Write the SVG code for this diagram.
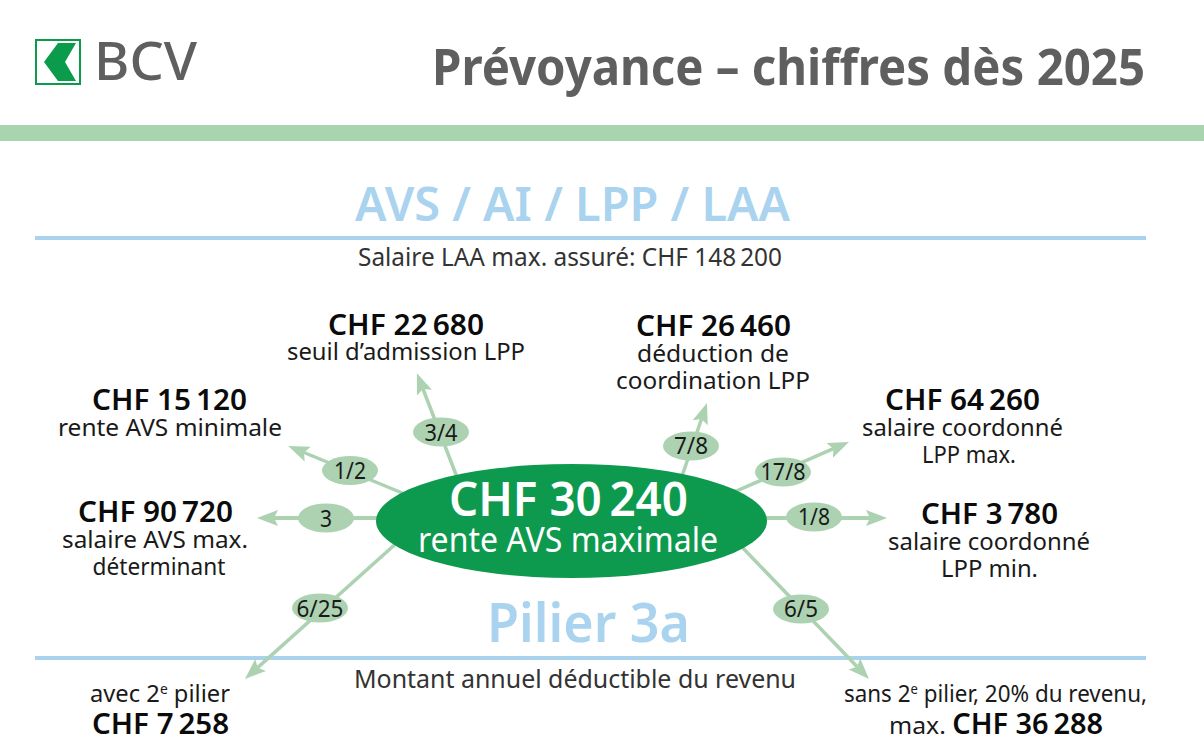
<svg xmlns="http://www.w3.org/2000/svg" width="1204" height="754" viewBox="0 0 1204 754">
<style>
text{font-family:"Noto Sans","Open Sans","DejaVu Sans",sans-serif;fill:#111;text-anchor:middle}
.v{font-size:28px;font-weight:600;fill:#0b0b0b}
.l{font-size:24px;font-weight:400;fill:#1a1a1a}
.s{font-size:26px;fill:#333}
.h{font-weight:600;fill:#a9d3ee}
.p{font-size:24px;fill:#1a1a1a}
.c{stroke:#acd2b1;stroke-width:4;fill:none;marker-end:url(#a)}
.d{stroke-width:3.500}
.o{fill:#acd2b1}
.r{fill:#a9d2ec}
</style>
<defs>
<marker id="a" markerUnits="userSpaceOnUse" markerWidth="22" markerHeight="18" refX="4" refY="9" orient="auto" viewBox="0 0 22 18">
<path d="M0 1L21 9L0 17L4 9Z" fill="#acd2b1"/>
</marker>
</defs>
<rect width="1204" height="754" fill="#fff"/>
<g id="logo">
<rect x="36" y="40" width="44" height="44" fill="#fff" stroke="#0a9b4b" stroke-width="2"/>
<path d="M58 43H76L65 62L76 81H58L44 62Z" fill="#0a9b4b"/>
<text x="145.500" y="80" textLength="103" lengthAdjust="spacingAndGlyphs" style="font-size:52px;font-weight:500;fill:#5f5f5f">BCV</text>
</g>
<text id="title" x="788.500" y="85" textLength="713" lengthAdjust="spacingAndGlyphs" style="font-size:51px;font-weight:700;fill:#5f5f5f">Prévoyance – chiffres dès 2025</text>
<rect id="band" y="125" width="1204" height="16" fill="#a8d4ae"/>
<text class="h" x="572.500" y="221" textLength="435" lengthAdjust="spacingAndGlyphs" style="font-size:46px">AVS / AI / LPP / LAA</text>
<rect class="r" x="35" y="236" width="1111" height="4"/>
<text class="s" x="570" y="266" textLength="424" lengthAdjust="spacingAndGlyphs">Salaire LAA max. assuré: CHF 148&#8201;200</text>
<text class="h" x="588.500" y="642" textLength="203" lengthAdjust="spacingAndGlyphs" style="font-size:54px">Pilier 3a</text>
<rect class="r" x="35" y="656" width="1111" height="4"/>
<text class="s" x="575" y="688" textLength="442" lengthAdjust="spacingAndGlyphs">Montant annuel déductible du revenu</text>
<g id="connectors">
<path class="c d" d="M460 485L423 389"/>
<path class="c d" d="M412 497L304 452.500"/>
<path class="c" d="M385 518H274"/>
<path class="c d" d="M680 482L701.500 419"/>
<path class="c d" d="M725 496L833.400 448.700"/>
<path class="c" d="M760 518H870"/>
<path class="c d" d="M400 540L257.600 667.600"/>
<path class="c d" d="M740 545L857.200 666.800"/>
</g>
<g id="center">
<ellipse cx="571.500" cy="521" rx="195.500" ry="57" fill="#0e9a4e"/>
<text x="568.500" y="516" textLength="239" lengthAdjust="spacingAndGlyphs" style="font-size:47px;font-weight:600;fill:#fff">CHF 30&#8201;240</text>
<text x="568" y="552" textLength="300" lengthAdjust="spacingAndGlyphs" style="font-size:35px;fill:#fff">rente AVS maximale</text>
</g>
<g id="r-3-4"><ellipse class="o" cx="441" cy="432" rx="28" ry="14.500"/><text class="p" x="441" y="441" textLength="33" lengthAdjust="spacingAndGlyphs">3/4</text></g>
<g id="r-1-2"><ellipse class="o" cx="350" cy="470.500" rx="28" ry="14.500"/><text class="p" x="350" y="478.500" textLength="32" lengthAdjust="spacingAndGlyphs">1/2</text></g>
<g id="r-3"><ellipse class="o" cx="326" cy="518" rx="28" ry="14.500"/><text class="p" x="326" y="526.500" textLength="12" lengthAdjust="spacingAndGlyphs">3</text></g>
<g id="r-7-8"><ellipse class="o" cx="691" cy="446" rx="28" ry="14.500"/><text class="p" x="691" y="454" textLength="34" lengthAdjust="spacingAndGlyphs">7/8</text></g>
<g id="r-17-8"><ellipse class="o" cx="783" cy="472" rx="28" ry="14.500"/><text class="p" x="783" y="479.500" textLength="45" lengthAdjust="spacingAndGlyphs">17/8</text></g>
<g id="r-1-8"><ellipse class="o" cx="814" cy="517" rx="28" ry="14.500"/><text class="p" x="814" y="524.500" textLength="32" lengthAdjust="spacingAndGlyphs">1/8</text></g>
<g id="r-6-25"><ellipse class="o" cx="320" cy="608" rx="28" ry="14.500"/><text class="p" x="320" y="616.500" textLength="47" lengthAdjust="spacingAndGlyphs">6/25</text></g>
<g id="r-6-5"><ellipse class="o" cx="801" cy="609" rx="28" ry="14.500"/><text class="p" x="801" y="617" textLength="34" lengthAdjust="spacingAndGlyphs">6/5</text></g>
<g id="n-22680"><text class="v" x="406" y="334.500" textLength="156" lengthAdjust="spacingAndGlyphs">CHF 22&#8201;680</text><text class="l" x="406" y="360" textLength="238" lengthAdjust="spacingAndGlyphs">seuil d’admission LPP</text></g>
<g id="n-26460"><text class="v" x="713.500" y="335.500" textLength="155" lengthAdjust="spacingAndGlyphs">CHF 26&#8201;460</text><text class="l" x="713" y="362" textLength="152" lengthAdjust="spacingAndGlyphs">déduction de</text><text class="l" x="713" y="389" textLength="194" lengthAdjust="spacingAndGlyphs">coordination LPP</text></g>
<g id="n-15120"><text class="v" x="169.500" y="410" textLength="155" lengthAdjust="spacingAndGlyphs">CHF 15&#8201;120</text><text class="l" x="170" y="436" textLength="224" lengthAdjust="spacingAndGlyphs">rente AVS minimale</text></g>
<g id="n-64260"><text class="v" x="962.500" y="410" textLength="155" lengthAdjust="spacingAndGlyphs">CHF 64&#8201;260</text><text class="l" x="962.500" y="436" textLength="201" lengthAdjust="spacingAndGlyphs">salaire coordonné</text><text class="l" x="969" y="463" textLength="94" lengthAdjust="spacingAndGlyphs">LPP max.</text></g>
<g id="n-90720"><text class="v" x="155.500" y="522" textLength="155" lengthAdjust="spacingAndGlyphs">CHF 90&#8201;720</text><text class="l" x="155" y="548" textLength="186" lengthAdjust="spacingAndGlyphs">salaire AVS max.</text><text class="l" x="159" y="575" textLength="133" lengthAdjust="spacingAndGlyphs">déterminant</text></g>
<g id="n-3780"><text class="v" x="989.500" y="524" textLength="137" lengthAdjust="spacingAndGlyphs">CHF 3&#8201;780</text><text class="l" x="989" y="550" textLength="202" lengthAdjust="spacingAndGlyphs">salaire coordonné</text><text class="l" x="989.500" y="577" textLength="97" lengthAdjust="spacingAndGlyphs">LPP min.</text></g>
<g id="n-7258"><text class="l" x="160" y="702" textLength="140" lengthAdjust="spacingAndGlyphs">avec 2<tspan dy="-8" font-size="14">e</tspan><tspan dy="8"> pilier</tspan></text><text class="v" x="160.500" y="733.500" textLength="137" lengthAdjust="spacingAndGlyphs">CHF 7&#8201;258</text></g>
<g id="n-36288"><text class="l" x="995.500" y="702" textLength="303" lengthAdjust="spacingAndGlyphs">sans 2<tspan dy="-8" font-size="14">e</tspan><tspan dy="8"> pilier, 20% du revenu,</tspan></text><text class="l" x="996" y="733.500" textLength="214" lengthAdjust="spacingAndGlyphs">max. <tspan class="v">CHF 36&#8201;288</tspan></text></g>
</svg>
